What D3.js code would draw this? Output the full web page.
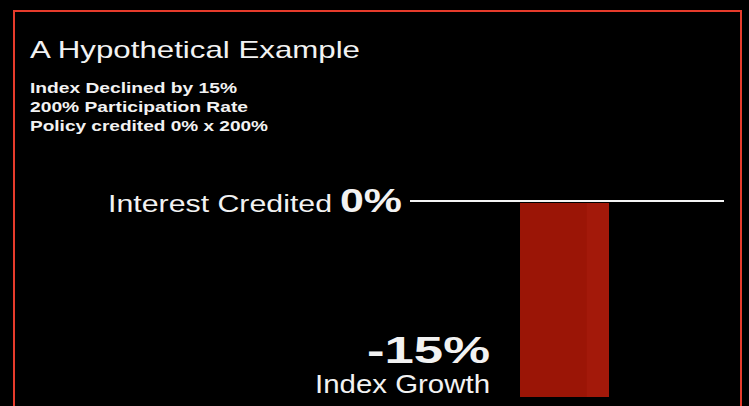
<!DOCTYPE html>
<html>
<head>
<meta charset="utf-8">
<script src="https://cdn.jsdelivr.net/npm/d3@7"></script>
<style>
  html, body { margin: 0; padding: 0; background: #000; }
  text { font-family: "Liberation Sans", Arial, sans-serif; fill: #f2f2f2; }
</style>
</head>
<body>
<div id="chart"></div>
<script>
// values
var categories = ['Index Growth'];
var indexGrowth = [-15];
var interestCredited = [0];
var notes = ['Index Declined by 15%', '200% Participation Rate', 'Policy credited 0% x 200%'];
var noteWidths = [207, 218, 238];

var W = 749, H = 406;

var svg = d3.select('#chart')
  .append('svg')
  .attr('width', W)
  .attr('height', H)
  .style('display', 'block');

svg.append('rect')
  .attr('width', W).attr('height', H)
  .attr('fill', '#000');

// red frame, bottom edge falls off the picture
svg.append('rect')
  .attr('x', 14).attr('y', 11)
  .attr('width', 727).attr('height', 420)
  .attr('fill', 'none')
  .attr('stroke', '#e63b2b')
  .attr('stroke-width', 2);

svg.append('text')
  .text('A Hypothetical Example')
  .attr('x', 30).attr('y', 58)
  .attr('font-size', 24)
  .attr('textLength', 330)
  .attr('lengthAdjust', 'spacingAndGlyphs');

svg.selectAll('.note')
  .data(notes)
  .enter()
  .append('text')
  .attr('class', 'note')
  .text(function(d) { return d; })
  .attr('x', 30)
  .attr('y', function(d, i) { return 93 + i * 19; })
  .attr('font-size', 14)
  .attr('font-weight', 'bold')
  .attr('textLength', function(d, i) { return noteWidths[i]; })
  .attr('lengthAdjust', 'spacingAndGlyphs');

var yScale = d3.scaleLinear().domain([-15, 0]).range([397, 203]);
var xScale = d3.scaleBand().domain(categories).range([520, 609]).padding(0);

// zero line
svg.append('line')
  .attr('x1', 410).attr('x2', 724)
  .attr('y1', yScale(0) - 2).attr('y2', yScale(0) - 2)
  .attr('stroke', '#f4f4f4')
  .attr('stroke-width', 2.2);

var bar = svg.append('g')
  .selectAll('.bar')
  .data(indexGrowth)
  .enter();

bar.append('rect')
  .attr('class', 'bar')
  .attr('x', function(d, i) { return xScale(categories[i]); })
  .attr('y', function(d) { return yScale(Math.max(0, d)); })
  .attr('width', xScale.bandwidth())
  .attr('height', function(d) { return Math.abs(yScale(d) - yScale(0)); })
  .attr('fill', '#9b1506');

// lighter strip on the right side of the bar
bar.append('rect')
  .attr('x', function(d, i) { return xScale(categories[i]) + xScale.bandwidth() * 0.75; })
  .attr('y', function(d) { return yScale(Math.max(0, d)); })
  .attr('width', xScale.bandwidth() * 0.25)
  .attr('height', function(d) { return Math.abs(yScale(d) - yScale(0)); })
  .attr('fill', '#a3190a');

// interest credited label, left of the zero line
var credY = yScale(interestCredited[0]) + 9;
svg.append('text')
  .text('Interest Credited')
  .attr('x', 108).attr('y', credY)
  .attr('font-size', 23)
  .attr('textLength', 224)
  .attr('lengthAdjust', 'spacingAndGlyphs');

svg.append('text')
  .text(interestCredited[0] + '%')
  .attr('x', 340).attr('y', credY)
  .attr('font-size', 33)
  .attr('font-weight', 'bold')
  .attr('textLength', 62)
  .attr('lengthAdjust', 'spacingAndGlyphs');

// index growth label (plain hyphen like the slide)
svg.append('text')
  .text(String(indexGrowth[0]) + '%')
  .attr('x', 490).attr('y', 363)
  .attr('text-anchor', 'end')
  .attr('font-size', 36)
  .attr('font-weight', 'bold')
  .attr('textLength', 123)
  .attr('lengthAdjust', 'spacingAndGlyphs');

svg.append('text')
  .text(categories[0])
  .attr('x', 490).attr('y', 393)
  .attr('text-anchor', 'end')
  .attr('font-size', 25)
  .attr('textLength', 175)
  .attr('lengthAdjust', 'spacingAndGlyphs');
</script>
</body>
</html>
